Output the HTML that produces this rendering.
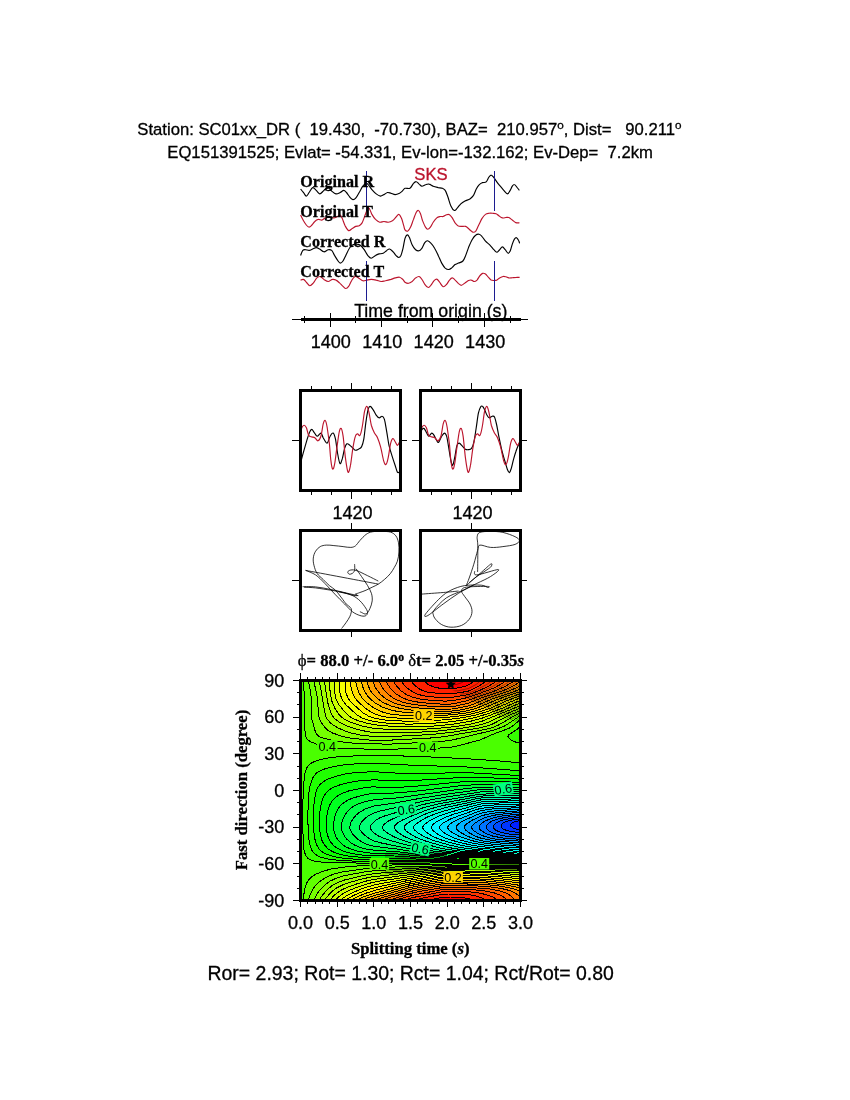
<!DOCTYPE html>
<html><head><meta charset="utf-8"><title>SKS splitting SC01xx_DR</title>
<style>html,body{margin:0;padding:0;background:#fff}svg{display:block}</style></head>
<body>
<svg width="850" height="1100" viewBox="0 0 850 1100" font-family="'Liberation Sans', Arial, Helvetica, sans-serif" fill="#000">
<style>text{stroke:#000;stroke-width:.3px;paint-order:stroke}.nr{stroke:none}.rt{stroke:#bb142c}</style>
<rect width="850" height="1100" fill="#fff"/>
<text x="137.3" y="134.8" font-size="16.67" xml:space="preserve">Station: SC01xx_DR (  19.430,  -70.730), BAZ=  210.957<tspan font-size="11.7" dy="-5.5">o</tspan><tspan dy="5.5">, Dist=   90.211</tspan><tspan font-size="11.7" dy="-5.5">o</tspan></text>
<text x="167.3" y="157.8" font-size="16.67" xml:space="preserve">EQ151391525; Evlat= -54.331, Ev-lon=-132.162; Ev-Dep=  7.2km</text>
<g fill="none" stroke-width="1.15" stroke-linejoin="round">
<path d="M300.6 189C301.1 189.6 302.5 191.4 303.5 192.5C304.4 193.7 305.4 196.1 306.3 196.1C307.2 196.1 308.1 193.9 309.1 192.5C310.2 191.1 311.5 187.9 312.6 187.6C313.8 187.2 315 189.4 316.2 190.4C317.4 191.5 318.5 193.8 319.7 193.9C320.9 194.1 322.3 191.9 323.2 191.1C324.2 190.3 324.4 189.5 325.4 189C326.3 188.5 327.8 187.9 328.9 188.3C329.9 188.6 330.5 190.2 331.7 191.1C332.9 192.1 334.5 193.7 335.9 193.9C337.4 194.2 338.9 193.1 340.2 192.5C341.5 191.9 342.6 190.4 343.7 190.4C344.8 190.4 345.5 191.4 346.5 192.5C347.6 193.7 349 196.3 350.1 197.5C351.1 198.6 351.9 199.5 352.9 199.6C353.8 199.7 354.6 199.4 355.7 198.2C356.8 197 358.1 194.5 359.2 192.5C360.4 190.5 361.8 187.6 362.8 186.2C363.7 184.8 364.3 184.5 364.9 184.1C365.5 183.6 365.7 183.2 366.3 183.4C366.9 183.5 367.5 183.7 368.4 184.8C369.4 185.8 370.6 188.2 371.9 189.7C373.2 191.2 374.8 192.9 376.2 193.9C377.6 195 379.1 195.9 380.4 196.1C381.7 196.2 382.8 195.2 383.9 194.6C385.1 194.1 386.3 192.8 387.5 192.5C388.6 192.3 389.7 192.9 391 193.2C392.3 193.6 393.8 194.6 395.2 194.6C396.6 194.6 398.3 193.8 399.5 193.2C400.6 192.6 401.4 191.9 402.3 191.1C403.2 190.3 403.7 188.8 405 188.3C406.3 187.8 408.5 189.1 409.9 188.3C411.4 187.5 412.4 184.5 413.5 183.4C414.5 182.2 415.4 181.5 416.3 181.7C417.2 181.8 418.2 183.3 419.1 184.1C420.1 184.8 420.9 186.1 421.9 186.2C423 186.3 424.3 185.1 425.5 184.8C426.6 184.4 427.7 183.8 429 184.1C430.3 184.3 431.7 185.6 433.2 186.2C434.8 186.8 436.6 187.2 438.2 187.6C439.7 187.9 441.2 187.8 442.4 188.3C443.6 188.8 444.3 188.9 445.2 190.4C446.2 191.9 447.1 194.9 448.1 197.5C449 200.1 449.8 203.8 450.9 205.9C451.9 208.1 453.4 210.1 454.4 210.5C455.5 210.8 456.2 209.2 457.2 208.1C458.3 207 459.5 205 460.8 203.8C462.1 202.6 463.5 201.8 465 201C466.5 200.2 468.5 199.8 469.9 198.9C471.4 197.9 472.4 197 473.5 195.4C474.5 193.7 475.4 190.8 476.3 189C477.2 187.2 478.1 185.8 479.1 184.8C480.2 183.7 481.5 183.1 482.6 182.6C483.8 182.2 485.1 182.9 486.2 181.9C487.2 181 488.1 178.1 489 177C489.9 175.9 490.6 175 491.4 175.2C492.2 175.3 493 176.6 493.9 177.7C494.8 178.8 495.7 180.5 496.8 181.9C497.8 183.4 499.1 184.8 500.3 186.2C501.5 187.6 502.6 189.1 503.8 190.4C505 191.7 506.3 193.9 507.4 193.9C508.4 193.9 509.4 191.7 510.2 190.4C511 189.1 511.6 187.2 512.3 186.2C513 185.2 513.6 184.2 514.4 184.5C515.2 184.7 516.4 186.6 517.2 187.6C518.1 188.6 519 189.9 519.4 190.4" stroke="#000"/>
<path d="M300.6 215.1C301.1 216.1 302.5 219.1 303.5 220.8C304.4 222.4 305.4 223.9 306.3 225C307.2 226.1 308.2 227.1 309.1 227.1C310.1 227.1 311 225.9 311.9 225C312.9 224.1 313.7 222.4 314.8 221.5C315.8 220.5 317.1 219.6 318.3 219.4C319.5 219.1 320.6 220.3 321.8 220.1C323 219.8 324.1 218.4 325.4 217.9C326.6 217.5 328.2 217.2 329.6 217.2C331 217.2 332.5 218.1 333.8 217.9C335.1 217.8 336.3 217 337.4 216.5C338.4 216.1 339.4 214.8 340.2 215.1C341 215.5 341.5 216.9 342.3 218.6C343.1 220.4 344.1 223.7 345.1 225.7C346.2 227.7 347.5 230.2 348.6 230.6C349.8 231.1 351 229.2 352.2 228.5C353.4 227.8 354.5 226.9 355.7 226.4C356.9 225.9 358.2 226.3 359.2 225.7C360.3 225.1 361.1 224.5 362.1 222.9C363 221.2 364.1 217.9 364.9 215.8C365.7 213.7 366.3 211.5 367 210.2C367.7 208.9 368.3 207.4 369.1 208.1C369.9 208.8 370.9 212.5 371.9 214.4C373 216.3 374.2 218.1 375.5 219.4C376.8 220.6 378.3 221.8 379.7 222.2C381.1 222.5 382.5 221.5 383.9 221.5C385.4 221.5 386.8 222.3 388.2 222.2C389.6 222.1 391.1 221.6 392.4 220.8C393.7 219.9 394.9 218.3 395.9 217.2C397 216.2 397.8 214.2 398.8 214.4C399.7 214.6 400.8 216.8 401.6 218.6C402.4 220.5 403.1 223.8 403.7 225.7C404.3 227.6 404.3 229 405 229.9C405.7 230.8 406.9 231.5 407.8 231.1C408.8 230.6 409.7 229.1 410.6 227.1C411.6 225.2 412.5 221.8 413.5 219.4C414.4 216.9 415.5 213.8 416.3 212.3C417.1 210.8 417.7 210.2 418.4 210.5C419.1 210.7 419.8 212 420.5 213.7C421.2 215.4 421.8 218.5 422.6 220.8C423.5 223 424.6 225.7 425.5 227.1C426.3 228.5 426.8 229.2 427.6 229.2C428.4 229.2 429.5 228.3 430.4 227.1C431.4 225.9 432.2 223.7 433.2 222.2C434.3 220.6 435.6 218.9 436.8 217.9C437.9 217 439.2 216.8 440.3 216.5C441.4 216.3 442.1 216.8 443.1 216.5C444.2 216.2 445.6 215 446.6 214.7C447.7 214.4 448.5 214.2 449.5 214.7C450.4 215.2 451.4 216.6 452.3 217.9C453.2 219.3 454.2 221.6 455.1 222.9C456.1 224.2 456.9 225.1 457.9 225.7C459 226.3 460.2 226.3 461.5 226.4C462.8 226.5 464.4 225.9 465.7 226.4C467 226.9 468.1 228.3 469.2 229.2C470.4 230.2 471.7 231.7 472.8 232.1C473.8 232.4 474.6 232.4 475.6 231.4C476.5 230.3 477.4 227.8 478.4 225.7C479.5 223.6 480.8 220.5 481.9 218.6C483.1 216.8 484.3 215.3 485.5 214.4C486.6 213.5 487.8 213.5 489 213.3C490.2 213.1 491.4 213.2 492.5 213.3C493.7 213.4 495 213.3 496.1 213.7C497.1 214.1 497.8 215.1 498.9 215.8C499.9 216.5 501.2 217.7 502.4 217.9C503.6 218.2 504.9 217.6 505.9 217.5C507 217.4 507.7 217.1 508.8 217.5C509.8 217.9 511.1 219.2 512.3 220.1C513.5 220.9 514.6 222.1 515.8 222.6C517 223.1 518.8 222.8 519.4 222.9" stroke="#bb142c"/>
<path d="M300.6 255.4C301 254.5 301.9 251.4 302.8 250.4C303.6 249.5 304.5 249.7 305.6 249.7C306.6 249.7 307.9 250.5 309.1 250.4C310.3 250.3 311.5 249.5 312.6 249C313.8 248.5 315 247.6 316.2 247.6C317.4 247.6 318.4 248.3 319.7 249C321 249.7 322.5 251.7 323.9 251.8C325.4 251.9 326.9 249.9 328.2 249.7C329.5 249.5 330.6 249.5 331.7 250.4C332.8 251.4 333.5 253.6 334.5 255.4C335.6 257.1 337.1 259.7 338.1 261C339 262.3 339.4 263.1 340.2 263.1C341 263.1 342.1 262.3 343 261C343.9 259.7 344.8 257.5 345.8 255.4C346.9 253.2 348.2 250.1 349.4 248.3C350.5 246.5 351.6 245.5 352.9 244.8C354.2 244.1 355.8 243.9 357.1 244.1C358.4 244.2 359.5 244.5 360.6 245.5C361.8 246.4 363 248.1 364.2 249.7C365.4 251.4 366.5 253.9 367.7 255.4C368.9 256.8 369.9 258.2 371.2 258.2C372.5 258.2 374.2 256.1 375.5 255.4C376.8 254.6 377.7 254.3 379 253.9C380.3 253.6 381.9 253.8 383.2 253.2C384.5 252.6 385.7 251.1 386.8 250.4C387.8 249.7 388.5 248.8 389.6 249C390.6 249.2 392.1 250.8 393.1 251.8C394.2 252.9 395 254.4 395.9 255.4C396.9 256.3 397.9 257.5 398.8 257.5C399.6 257.5 400.2 256.9 400.9 255.4C401.6 253.8 402.3 251.1 403 248.3C403.7 245.5 404.3 240.6 405 238.4C405.7 236.2 406.4 235.1 407.1 234.9C407.8 234.6 408.4 235.4 409.2 237C410.1 238.6 411 242.6 412.1 244.8C413.1 246.9 414.4 248.7 415.6 249.7C416.8 250.7 418.1 251.1 419.1 250.8C420.2 250.6 421 249.7 421.9 248.3C422.9 246.9 423.8 243.9 424.8 242.6C425.7 241.4 426.5 240.7 427.6 240.8C428.6 240.9 429.9 242.1 431.1 243.4C432.3 244.6 433.5 246.3 434.6 248.3C435.8 250.3 437 252.9 438.2 255.4C439.4 257.8 440.5 261 441.7 263.1C442.9 265.2 444.1 267 445.2 268.1C446.4 269.1 447.6 269.6 448.8 269.5C449.9 269.4 451.2 268.2 452.3 267.4C453.4 266.5 454.1 265.2 455.1 264.5C456.2 263.8 457.4 263.7 458.6 263.1C459.9 262.5 461.7 262.3 462.9 261C464.1 259.7 464.8 257.6 465.7 255.4C466.6 253.1 467.5 250.2 468.5 247.6C469.6 245 470.9 241.9 472.1 239.8C473.2 237.8 474.4 236.1 475.6 235.2C476.8 234.2 478.1 234 479.1 234.2C480.2 234.4 480.9 235.1 481.9 236.3C483 237.5 484.2 239.8 485.5 241.2C486.8 242.6 488.3 243.4 489.7 244.8C491.1 246.2 492.8 248.5 493.9 249.7C495.1 251 495.8 252.2 496.8 252.2C497.7 252.2 498.6 250.6 499.6 249.7C500.5 248.8 501.5 246.9 502.4 246.9C503.4 246.9 504.3 248.6 505.2 249.7C506.2 250.8 507.2 253 508.1 253.2C508.9 253.5 509.5 252.6 510.2 251.1C510.9 249.6 511.6 246.1 512.3 244.1C513 242.1 513.7 240.2 514.4 239.1C515.1 238.1 515.8 237.5 516.5 237.7C517.2 237.9 518.1 239.6 518.6 240.5C519.2 241.5 519.5 242.9 519.6 243.4" stroke="#000"/>
<path d="M300.6 280.1C301.1 279.9 302.5 279 303.5 279.4C304.4 279.7 305.2 281.1 306.3 282.2C307.4 283.2 308.6 285.6 309.8 285.7C311 285.8 312.2 284.2 313.4 282.9C314.5 281.6 315.7 279 316.9 277.9C318.1 276.9 319.2 276.3 320.4 276.5C321.6 276.8 322.6 278.5 323.9 279.4C325.2 280.2 326.8 281.5 328.2 281.5C329.6 281.5 331.1 279.6 332.4 279.4C333.7 279.1 334.8 279.5 335.9 280.1C337.1 280.6 338.3 281.8 339.5 282.9C340.6 283.9 341.9 285.5 343 286.4C344.1 287.4 344.9 288.5 345.8 288.5C346.8 288.5 347.7 287.7 348.6 286.4C349.6 285.1 350.4 282.4 351.5 280.8C352.5 279.1 353.8 277 355 276.5C356.2 276.1 357.2 277.2 358.5 277.9C359.8 278.6 361.4 280.4 362.8 280.8C364.2 281.1 365.6 280.3 367 280.1C368.4 279.8 369.7 279.4 371.2 279.4C372.8 279.4 374.5 279.7 376.2 280.1C377.8 280.4 379.6 281.4 381.1 281.5C382.6 281.6 383.7 281.1 385.4 280.8C387 280.4 389.4 279.8 391 279.4C392.6 278.9 393.8 278.3 395.2 277.9C396.6 277.6 398.2 277 399.5 277.2C400.8 277.5 402.1 278.8 403 279.6C403.9 280.5 404.1 281.6 405 282.2C405.9 282.8 407.4 283.4 408.5 283.3C409.7 283.2 410.9 282.4 412.1 281.5C413.2 280.6 414.4 278.8 415.6 277.9C416.8 277.1 418.1 276.3 419.1 276.5C420.2 276.8 421 278.1 421.9 279.4C422.9 280.6 423.7 282.9 424.8 284.3C425.8 285.7 427.2 287.4 428.3 287.5C429.4 287.7 430.2 286.1 431.1 285C432.1 283.9 433 281.8 433.9 280.8C434.9 279.8 435.8 278.8 436.8 279.1C437.7 279.3 438.5 280.9 439.6 282.2C440.6 283.4 441.9 286.3 443.1 286.7C444.3 287 445.6 285.4 446.6 284.3C447.7 283.2 448.5 281.1 449.5 280.1C450.4 279 451.4 277.9 452.3 277.9C453.2 277.9 454.1 279.1 455.1 280.1C456.2 281 457.6 282.7 458.6 283.6C459.7 284.5 460.4 285.4 461.5 285.3C462.5 285.2 463.8 283.7 465 282.9C466.2 282.1 467.5 281 468.5 280.5C469.6 280 470.4 279.9 471.4 280.1C472.3 280.2 473.2 281.5 474.2 281.5C475.1 281.5 476.1 281 477 280.1C477.9 279.1 478.9 276.9 479.8 275.8C480.8 274.7 481.7 273.7 482.6 273.4C483.6 273.1 484.5 273.4 485.5 274C486.4 274.6 487.4 276.2 488.3 277.2C489.2 278.2 490.2 279.5 491.1 280.1C492.1 280.6 493 280.5 493.9 280.5C494.9 280.5 495.8 280.5 496.8 280.1C497.7 279.6 498.5 278.5 499.6 277.9C500.6 277.4 502.1 276.7 503.1 276.5C504.2 276.3 505 276.6 505.9 276.8C506.9 277 507.7 277.8 508.8 277.9C509.8 278.1 511 277.8 512.3 277.7C513.6 277.6 515.3 277.4 516.5 277.4C517.8 277.3 519.1 277.4 519.6 277.4" stroke="#bb142c"/>
</g>
<g stroke="#1c1c90" stroke-width="1" shape-rendering="crispEdges">
<line x1="366.5" y1="171" x2="366.5" y2="211"/>
<line x1="366.5" y1="261" x2="366.5" y2="301"/>
<line x1="494.5" y1="171" x2="494.5" y2="211"/>
<line x1="494.5" y1="261" x2="494.5" y2="301"/>
</g>
<g font-family="'Liberation Serif', 'Times New Roman', Times, serif" font-weight="bold" font-size="16.1">
<text x="300.3" y="187">Original R</text>
<text x="300.3" y="217.1">Original T</text>
<text x="300.3" y="247.2">Corrected R</text>
<text x="300.3" y="277.3">Corrected T</text>
</g>
<text class="rt" x="414.3" y="179.8" font-size="16.67" fill="#bb142c">SKS</text>
<text x="354.2" y="317.2" font-size="17.75">Time from origin (s)</text>
<g stroke="#000" shape-rendering="crispEdges">
<line x1="291.5" y1="319.5" x2="527.5" y2="319.5" stroke-width="1"/>
<line x1="301" y1="319.5" x2="520.5" y2="319.5" stroke-width="3.2"/>
<line x1="304.3" y1="315.5" x2="304.3" y2="323" stroke-width="1"/>
<line x1="330.0" y1="312.5" x2="330.0" y2="326.5" stroke-width="1"/>
<line x1="355.7" y1="315.5" x2="355.7" y2="323" stroke-width="1"/>
<line x1="381.5" y1="312.5" x2="381.5" y2="326.5" stroke-width="1"/>
<line x1="407.2" y1="315.5" x2="407.2" y2="323" stroke-width="1"/>
<line x1="432.9" y1="312.5" x2="432.9" y2="326.5" stroke-width="1"/>
<line x1="458.7" y1="315.5" x2="458.7" y2="323" stroke-width="1"/>
<line x1="484.4" y1="312.5" x2="484.4" y2="326.5" stroke-width="1"/>
<line x1="510.1" y1="315.5" x2="510.1" y2="323" stroke-width="1"/>
</g>
<g font-size="18.06" text-anchor="middle">
<text x="330.8" y="348">1400</text>
<text x="382.3" y="348">1410</text>
<text x="433.7" y="348">1420</text>
<text x="485.2" y="348">1430</text>
</g>
<g fill="none" stroke-width="1.15" stroke-linejoin="round">
<path d="M301.4 459.9C301.8 458.2 303.1 453.4 304.1 449.9C305.1 446.5 306.3 442.2 307.2 439.2C308.1 436.3 308.7 434 309.5 432.4C310.2 430.7 311 429.3 311.8 429.3C312.5 429.3 313.2 431.2 314.1 432.4C315 433.5 316 436 317.1 436.2C318.3 436.3 319.9 432.9 320.9 433.1C322 433.4 322.2 436 323.2 437.7C324.3 439.4 325.9 443.3 327.1 443.1C328.2 442.8 329.1 437.8 330.1 436.2C331.1 434.5 332.3 432.6 333.2 433.1C334.1 433.6 334.7 435.7 335.5 439.2C336.2 442.8 337 450.5 337.8 454.5C338.5 458.6 339.3 463.1 340.1 463.7C340.8 464.3 341.6 460.9 342.4 458.4C343.1 455.8 343.9 450.8 344.6 448.4C345.4 446 346 444.3 346.9 443.8C347.8 443.3 349 444.6 350 445.4C351 446.1 352.2 447.6 353.1 448.4C354 449.2 354.5 450.1 355.4 450.2C356.2 450.4 357.4 449.7 358.4 449.2C359.4 448.6 360.6 448.5 361.5 446.9C362.4 445.2 363 443.6 363.8 439.2C364.5 434.9 365.3 426 366.1 420.9C366.8 415.8 367.6 411.1 368.4 408.6C369.1 406.2 369.6 406.2 370.3 406.4C371.1 406.5 372 408 372.9 409.4C373.9 410.8 375 413.4 376 414.8C377 416.2 378 417.6 379.1 417.8C380.1 418.1 381.2 416 382.1 416.3C383 416.5 383.6 416.8 384.4 419.4C385.2 421.9 385.9 427.3 386.7 431.6C387.5 435.9 388.1 441.3 389 445.4C389.9 449.4 391 452.7 392.1 456.1C393.1 459.4 394.2 462.6 395.1 465.2C396 467.9 396.7 471 397.4 472.1C398.1 473.3 399.1 472.1 399.4 472.1" stroke="#000"/>
<path d="M300.3 433.9C300.5 432.9 301.2 429.2 301.8 427.8C302.5 426.3 303.4 425.2 304.1 425.2C304.9 425.2 305.6 426.1 306.4 427.8C307.2 429.5 307.8 433.9 308.7 435.4C309.6 436.9 310.7 436.6 311.8 436.9C312.8 437.3 313.8 437.1 314.8 437.7C315.8 438.3 316.9 441 317.9 440.8C318.9 440.5 320 439 320.9 436.2C321.8 433.4 322.5 426.6 323.2 423.9C323.9 421.3 324.6 419.9 325.2 420.4C325.9 420.9 326.4 423.1 327.1 427C327.7 430.9 328.7 438.2 329.4 443.8C330 449.4 330.3 456.4 330.9 460.6C331.4 464.9 332.1 468.5 332.7 469.1C333.4 469.6 334 467.4 334.7 463.7C335.4 460 336.2 452.2 337 446.9C337.8 441.5 338.6 434.6 339.3 431.6C340 428.5 340.6 427.8 341.3 428.5C341.9 429.3 342.4 431.3 343.1 436.2C343.8 441 344.6 451.6 345.4 457.6C346.2 463.6 347.2 470.8 348 472.1C348.9 473.4 349.6 469.4 350.5 465.2C351.3 461 352.2 451.7 353.1 446.9C353.9 442 354.6 438.3 355.4 436.2C356.1 434 356.9 434 357.6 433.9C358.4 433.8 359.2 436.6 359.9 435.4C360.7 434.3 361.5 431 362.2 427C363 423 363.8 415.1 364.5 411.7C365.3 408.3 366.1 406.4 366.8 406.4C367.5 406.4 368 408.5 368.8 411.7C369.6 414.9 370.5 421.9 371.4 425.5C372.4 429 373.5 431.1 374.5 433.1C375.5 435.2 376.5 435.4 377.5 437.7C378.5 440 379.6 443.1 380.6 446.9C381.6 450.7 382.8 457.7 383.6 460.6C384.5 463.6 385.2 465 385.9 464.5C386.7 464 387.5 461 388.2 457.6C389 454.1 389.8 447 390.5 443.8C391.3 440.6 392.1 438.9 392.8 438.5C393.6 438.1 394.4 440.4 395.1 441.5C395.9 442.7 396.7 445.2 397.4 445.4C398.1 445.5 399.1 442.8 399.4 442.3" stroke="#bb142c"/>
</g>
<rect x="300.5" y="390.5" width="100" height="100" fill="none" stroke="#000" stroke-width="3" shape-rendering="crispEdges"/>
<g stroke="#000" stroke-width="1" shape-rendering="crispEdges">
<line x1="311.5" y1="386.3" x2="311.5" y2="389"/>
<line x1="311.5" y1="492" x2="311.5" y2="494.7"/>
<line x1="331.4" y1="386.3" x2="331.4" y2="389"/>
<line x1="331.4" y1="492" x2="331.4" y2="494.7"/>
<line x1="351.3" y1="382.5" x2="351.3" y2="389"/>
<line x1="351.3" y1="492" x2="351.3" y2="498.5"/>
<line x1="371.2" y1="386.3" x2="371.2" y2="389"/>
<line x1="371.2" y1="492" x2="371.2" y2="494.7"/>
<line x1="391.1" y1="386.3" x2="391.1" y2="389"/>
<line x1="391.1" y1="492" x2="391.1" y2="494.7"/>
<line x1="292.0" y1="440.5" x2="299.0" y2="440.5"/>
<line x1="402.0" y1="440.5" x2="407.0" y2="440.5"/>
</g>
<text x="352.5" y="518.8" font-size="18.06" text-anchor="middle">1420</text>
<g fill="none" stroke-width="1.15" stroke-linejoin="round">
<path d="M420.3 433.9C420.6 433.1 421.5 430.2 422.1 429.3C422.8 428.4 423.4 428 424.1 428.5C424.8 429 425.6 431.1 426.4 432.4C427.2 433.6 427.8 436 428.7 436.2C429.6 436.3 430.9 433.2 431.8 433.1C432.7 433 433.3 434.3 434.1 435.4C434.8 436.6 435.6 438.9 436.4 440C437.1 441.1 437.8 442.9 438.6 442.3C439.5 441.7 440.7 437.7 441.7 436.2C442.7 434.6 443.6 433.1 444.5 433.1C445.3 433.1 445.9 433.9 446.6 436.2C447.3 438.5 447.9 442.8 448.6 446.9C449.3 451 450.2 457.6 450.9 460.6C451.6 463.7 452.1 465.7 452.7 465.2C453.4 464.7 454 460.9 454.7 457.6C455.4 454.3 456.2 447.8 457 445.4C457.8 442.9 458.4 442.9 459.3 443.1C460.2 443.2 461.3 445.1 462.4 446.1C463.4 447.1 464.4 448.6 465.4 449.2C466.4 449.8 467.5 449.8 468.5 449.6C469.5 449.5 470.6 449.6 471.5 448.4C472.4 447.2 473.1 445.6 473.8 442.3C474.6 439 475.4 433.4 476.1 428.5C476.9 423.7 477.6 416.9 478.4 413.2C479.2 409.6 480 408 480.7 406.8C481.4 405.7 482.1 405.9 482.7 406.4C483.3 406.8 483.8 408 484.5 409.4C485.2 410.8 486.1 413.4 486.8 414.8C487.6 416.2 488.2 417.6 489.1 417.8C490 418.1 491.3 416.4 492.2 416.3C493.1 416.2 493.7 415.5 494.5 417.1C495.2 418.6 496 422 496.8 425.5C497.5 428.9 498.2 433.4 499.1 437.7C500 442 501.1 447.4 502.1 451.5C503.1 455.5 504.3 459.1 505.2 462.2C506.1 465.2 506.8 468.1 507.5 469.8C508.2 471.6 508.8 472.8 509.5 472.6C510.1 472.3 510.6 470.5 511.3 468.3C512 466.1 512.8 461.9 513.6 459.1C514.4 456.3 515.1 453.8 515.9 451.5C516.6 449.2 517.6 446.8 518.2 445.4C518.8 444 519.2 443.4 519.4 443.1" stroke="#000"/>
<path d="M420.3 433.9C420.5 432.9 421.2 429.2 421.8 427.8C422.5 426.3 423.4 425.2 424.1 425.2C424.9 425.2 425.6 426.1 426.4 427.8C427.2 429.5 427.8 433.9 428.7 435.4C429.6 436.9 430.7 436.6 431.8 436.9C432.8 437.3 433.8 437.1 434.8 437.7C435.8 438.3 436.9 441 437.9 440.8C438.9 440.5 440 439 440.9 436.2C441.8 433.4 442.5 426.6 443.2 423.9C443.9 421.3 444.6 419.9 445.2 420.4C445.9 420.9 446.4 423.1 447.1 427C447.7 430.9 448.7 438.2 449.4 443.8C450 449.4 450.3 456.4 450.9 460.6C451.4 464.9 452.1 468.5 452.7 469.1C453.4 469.6 454 467.4 454.7 463.7C455.4 460 456.2 452.2 457 446.9C457.8 441.5 458.6 434.6 459.3 431.6C460 428.5 460.6 427.8 461.3 428.5C461.9 429.3 462.4 431.3 463.1 436.2C463.8 441 464.6 451.6 465.4 457.6C466.2 463.6 467.2 470.8 468 472.1C468.9 473.4 469.6 469.4 470.5 465.2C471.3 461 472.2 451.7 473.1 446.9C473.9 442 474.6 438.3 475.4 436.2C476.1 434 476.9 434 477.6 433.9C478.4 433.8 479.2 436.6 479.9 435.4C480.7 434.3 481.5 431 482.2 427C483 423 483.8 415.1 484.5 411.7C485.3 408.3 486.1 406.4 486.8 406.4C487.5 406.4 488 408.5 488.8 411.7C489.6 414.9 490.5 421.9 491.4 425.5C492.4 429 493.5 431.1 494.5 433.1C495.5 435.2 496.5 435.4 497.5 437.7C498.5 440 499.6 443.1 500.6 446.9C501.6 450.7 502.8 457.7 503.6 460.6C504.5 463.6 505.2 465 505.9 464.5C506.7 464 507.5 461 508.2 457.6C509 454.1 509.8 447 510.5 443.8C511.3 440.6 512.1 438.9 512.8 438.5C513.6 438.1 514.4 440.4 515.1 441.5C515.9 442.7 516.7 445.2 517.4 445.4C518.1 445.5 519.1 442.8 519.4 442.3" stroke="#bb142c"/>
</g>
<rect x="420.5" y="390.5" width="100" height="100" fill="none" stroke="#000" stroke-width="3" shape-rendering="crispEdges"/>
<g stroke="#000" stroke-width="1" shape-rendering="crispEdges">
<line x1="431.5" y1="386.3" x2="431.5" y2="389"/>
<line x1="431.5" y1="492" x2="431.5" y2="494.7"/>
<line x1="451.4" y1="386.3" x2="451.4" y2="389"/>
<line x1="451.4" y1="492" x2="451.4" y2="494.7"/>
<line x1="471.3" y1="382.5" x2="471.3" y2="389"/>
<line x1="471.3" y1="492" x2="471.3" y2="498.5"/>
<line x1="491.2" y1="386.3" x2="491.2" y2="389"/>
<line x1="491.2" y1="492" x2="491.2" y2="494.7"/>
<line x1="511.1" y1="386.3" x2="511.1" y2="389"/>
<line x1="511.1" y1="492" x2="511.1" y2="494.7"/>
<line x1="412.0" y1="440.5" x2="419.0" y2="440.5"/>
<line x1="522.0" y1="440.5" x2="527.0" y2="440.5"/>
</g>
<text x="472.5" y="518.8" font-size="18.06" text-anchor="middle">1420</text>
<g fill="none" stroke="#000" stroke-width="0.8" stroke-linejoin="round">
<path d="M341.6 628.5C342.4 627.5 344.8 624.4 346.2 622.4C347.6 620.3 349.1 618.3 350 616.2C350.9 614.2 351.5 611.6 351.5 610.1C351.5 608.6 350.9 608.1 350 607.1C349.1 606 347.6 605.5 346.2 604C344.8 602.5 343.4 600.2 341.6 597.9C339.8 595.6 337.5 592.3 335.5 590.2C333.4 588.2 331.4 587.4 329.4 585.6C327.3 583.9 325.3 581.6 323.2 579.5C321.2 577.5 318.6 575.7 317.1 573.4C315.6 571.1 314.7 568.3 314.1 565.8C313.4 563.2 313 560.5 313.3 558.1C313.5 555.7 314.4 553.1 315.6 551.2C316.7 549.3 318.4 547.7 320.2 546.6C322 545.6 324 545.3 326.3 545.1C328.6 544.9 331.1 545.3 333.9 545.6C336.7 545.8 340.3 546.3 343.1 546.6C345.9 547 348.7 547.5 350.8 547.4C352.8 547.3 353.8 547 355.4 545.9C356.9 544.7 358.2 542.4 359.9 540.5C361.7 538.6 364 535.9 366.1 534.4C368.1 533 369.6 532.3 372.2 531.8C374.7 531.3 378.3 531.3 381.4 531.4C384.4 531.4 388.1 531.4 390.5 532.1C393 532.9 394.6 534.2 395.9 535.9C397.2 537.7 398 540.1 398.5 542.8C399 545.5 399.1 548.9 398.9 552C398.8 555.1 398.2 558.6 397.4 561.2C396.6 563.7 395.5 565.3 394.4 567.3C393.2 569.3 392.2 571.4 390.5 573.4C388.9 575.5 386.5 577.7 384.4 579.5C382.4 581.3 380.3 582.8 378.3 584.1C376.3 585.4 374.2 586.2 372.2 587.2C370.1 588.2 368.1 589.3 366.1 590.2C364 591.1 361.7 591.9 359.9 592.5C358.2 593.2 356.1 593.8 355.4 594.1"/>
<path d="M355.4 594.1C355.7 594.3 358.2 595.4 357.6 595.6C357.1 595.8 354.7 595.6 352.3 595.1C349.9 594.6 346.7 593.3 343.1 592.5C339.5 591.7 335.5 591 330.9 590.2C326.3 589.5 320 588.5 315.6 587.9C311.1 587.4 306 587.3 304.1 587.2"/>
<path d="M302.6 586.7C304.8 586.7 310.9 586.4 315.6 586.9C320.3 587.3 325.8 588.5 330.9 589.5C336 590.5 341.6 591.9 346.2 593C350.8 594 356.4 595.3 358.4 595.7"/>
<path d="M378.3 584.1C366.2 581.8 317.8 572.6 305.6 570.4"/>
<path d="M305.6 570.4C307.3 571.1 312.4 572.8 315.6 574.9C318.8 577.1 321.5 580 324.8 583.4C328.1 586.7 332.2 591.4 335.5 594.8C338.8 598.3 341.8 601.2 344.6 604C347.5 606.8 349.7 609.7 352.3 611.6C354.8 613.6 357.8 614.8 359.9 615.5C362.1 616.2 364 616.4 365.3 615.9C366.6 615.4 367.7 614 367.6 612.4C367.5 610.8 366.1 608.5 364.5 606.3C363 604.1 360.7 601.3 358.4 599.4C356.1 597.5 354.1 596.1 350.8 594.8C347.5 593.5 340.6 592.3 338.5 591.8"/>
<path d="M354.6 564.2C354.6 565.3 355 568.8 354.6 570.4C354.2 571.9 353.2 572.8 352.3 573.4C351.4 574 350 574.4 349.2 574.2C348.5 573.9 347.5 572.6 347.7 571.9C348 571.2 349.2 570.3 350.8 570C352.3 569.8 354.1 569.7 356.9 570.7C359.7 571.6 364 574 367.6 575.7C371.2 577.4 376.5 580.2 378.3 581.1"/>
<path d="M356.1 568.8C357 570.1 359.6 573.7 361.5 576.5C363.4 579.3 365.9 582.8 367.6 585.6C369.2 588.5 370.6 590.7 371.4 593.3C372.2 595.8 372.4 598.4 372.2 600.9C371.9 603.5 370.9 606.4 369.9 608.6C368.9 610.8 367.5 613.3 366.1 613.9C364.7 614.6 362.5 612.8 361.5 612.4C360.5 612 360.2 611.8 359.9 611.6"/>
</g>
<rect x="300.5" y="530.5" width="100" height="100" fill="none" stroke="#000" stroke-width="3" shape-rendering="crispEdges"/>
<g stroke="#000" stroke-width="1" shape-rendering="crispEdges">
<line x1="351.0" y1="522.5" x2="351.0" y2="529"/>
<line x1="351.0" y1="632" x2="351.0" y2="637"/>
<line x1="292.0" y1="580.5" x2="299.0" y2="580.5"/>
<line x1="402.0" y1="580.5" x2="407.0" y2="580.5"/>
</g>
<g fill="none" stroke="#000" stroke-width="0.8" stroke-linejoin="round">
<path d="M477.6 571.9C477.7 567.5 477.9 551.7 477.8 545.9C477.7 540 476.8 538.9 477.2 536.7C477.5 534.5 477.7 533.3 479.9 532.4C482.2 531.5 486.8 531.4 490.6 531.4C494.5 531.4 498.8 531.5 502.9 532.4C507 533.3 512.4 535.4 515.1 536.7C517.9 538.1 519.4 539.3 519.4 540.5C519.4 541.8 517.9 543.3 515.1 544.4C512.4 545.4 507 546.1 502.9 546.6C498.8 547.2 494.5 547.7 490.6 547.4C486.8 547.2 482.1 544.6 479.9 545.1C477.8 545.6 478.7 547.3 477.6 550.5C476.6 553.7 475.2 559.6 473.8 564.2C472.4 568.8 470.5 574.4 469.2 578C468 581.6 466.7 584.4 466.2 585.6"/>
<path d="M466.2 585.6C468.2 583.9 474.3 578.5 478.4 574.9C482.5 571.4 488.5 565.7 490.6 564.2C492.8 562.8 491.8 565.3 491.4 566.1C491 566.8 490.8 567.1 488.4 568.8C485.9 570.6 480.1 574.2 476.9 576.5C473.7 578.8 470.5 581.6 469.2 582.6"/>
<path d="M474.6 571.1C475 571.8 472.9 575.2 476.9 574.9C480.8 574.7 496 569.3 498.3 569.6C500.6 569.8 494.2 574.2 490.6 576.5C487.1 578.8 481.5 581.1 476.9 583.4C472.3 585.6 468.2 587.8 463.1 590.2C458 592.7 451.1 594.6 446.3 597.9C441.5 601.2 436.2 607.3 434.1 610.1C431.9 612.9 433 613.2 433.3 614.7C433.5 616.2 434.2 617.6 435.6 619.3C437 621 439.2 623.3 441.7 624.6C444.3 626 447.6 627.1 450.9 627.2C454.2 627.4 458.5 626.7 461.6 625.4C464.6 624.1 467.5 621.6 469.2 619.3C471 617 471.9 614.2 472 611.6C472.1 609.1 471.2 606.5 470 604C468.8 601.5 466 598.5 464.6 596.4C463.2 594.2 461.3 592.5 461.6 591C461.8 589.5 461.8 587.9 466.2 587.2C470.5 586.4 484 586.4 487.6 586.4C491.2 586.5 488.6 587.7 487.6 587.5C486.6 587.3 485.3 585.5 481.5 585.2C477.6 584.9 469.7 584.8 464.6 585.6C459.5 586.5 455 588.2 450.9 590.2C446.8 592.3 444.4 593.9 440.2 597.9C436 601.8 427.7 611 425.6 613.9C423.6 616.9 425 617.1 427.9 615.5C430.9 613.8 438.1 607.7 443.2 604C448.3 600.3 453.4 596.5 458.5 593.3C463.6 590.1 471.3 586.3 473.8 584.9"/>
<path d="M421.8 594.1C425.4 593.8 437.1 593 443.2 592.5C449.4 592 456 591.3 458.5 591"/>
</g>
<rect x="420.5" y="530.5" width="100" height="100" fill="none" stroke="#000" stroke-width="3" shape-rendering="crispEdges"/>
<g stroke="#000" stroke-width="1" shape-rendering="crispEdges">
<line x1="471.0" y1="522.5" x2="471.0" y2="529"/>
<line x1="471.0" y1="632" x2="471.0" y2="637"/>
<line x1="412.0" y1="580.5" x2="419.0" y2="580.5"/>
<line x1="522.0" y1="580.5" x2="527.0" y2="580.5"/>
</g>
<clipPath id="cp"><rect x="300.5" y="680.5" width="220" height="220"/></clipPath>
<g clip-path="url(#cp)" stroke="#000" stroke-width="1" fill-rule="evenodd" stroke-linejoin="round" shape-rendering="crispEdges">
<rect x="300.5" y="680.5" width="220" height="220" fill="#ff0000"/>
<path d="M520.5 906.5 474.5 906.5 473 900.5 470.5 899.3 468.2 898.5 464.5 897.9 450.5 897 444.5 897.1 440.5 897.6 427.6 900.5 426.5 906.5 300.5 906.5 294.5 900.5 294.5 680.5 300.5 674.5 424.5 674.5 424.7 680.5 425.8 682.5 428.1 684.5 432.5 686.5 436.5 687.6 441 688.5 446.5 688.9 452.5 688.6 458.5 687.8 464.5 686.5 469.5 684.5 472.3 682.5 473.7 680.5 474.5 674.5 520.5 674.5 526.5 680.5 526.5 900.5 520.5 906.5Z" fill="#ff2000"/>
<path d="M520.5 906.5 486.5 906.5 486.1 900.5 483.3 898.5 478.1 896.5 472.5 895.2 467.9 894.5 460.5 894.2 448.5 894 442.5 894.3 420.5 898.5 413.1 900.5 412.5 906.5 300.5 906.5 294.5 900.5 294.5 680.5 300.5 674.5 410.5 674.5 410.9 680.5 412.1 682.5 416.1 686.5 420.5 689.6 424.5 691.3 428.5 692.4 444.5 693.8 452.5 693.6 461.1 692.5 468.5 691 472.5 689.4 481.4 684.5 484.3 682.5 486.2 680.5 486.5 674.5 520.5 674.5 526.5 680.5 526.5 900.5 520.5 906.5Z" fill="#ff3500"/>
<path d="M520.5 906.5 498.5 906.5 497 900.5 495.4 898.5 491.9 896.5 485.8 894.5 478.5 892.9 466.5 891.5 448.5 891.4 442.5 891.8 412.5 897.6 403.1 900.5 402.5 906.5 300.5 906.5 294.5 900.5 294.5 680.5 300.5 674.5 400.5 674.5 401.2 680.5 403.6 684.5 407.6 688.5 413.7 692.5 418.5 694.5 424.5 696 432.5 696.9 444.5 697.7 452.5 697.3 466.5 694.9 472.5 693.2 479.4 690.5 487.9 686.5 494.7 682.5 496.7 680.5 498.5 674.5 520.5 674.5 526.5 680.5 526.5 900.5 520.5 906.5Z" fill="#ff4a00"/>
<path d="M520.5 906.5 506.5 906.5 506.4 900.5 505.3 898.5 502.9 896.5 500.5 895.2 494.5 893 482.1 890.5 466.5 889.2 442.5 889.5 412.5 895.3 400.8 898.5 395.2 900.5 394.5 906.5 300.5 906.5 294.5 900.5 294.5 680.5 300.5 674.5 392.5 674.5 393.2 680.5 395.3 684.5 400.6 690.5 406.5 694.7 412.5 697.1 420.5 699.1 430.5 700.3 444.5 701.1 452.5 700.8 466.5 697.8 474.5 695.3 492.7 688.5 500.6 684.5 503.7 682.5 505.9 680.5 506.5 674.5 520.5 674.5 526.5 680.5 526.5 900.5 520.5 906.5Z" fill="#ff6000"/>
<path d="M520.5 906.5 516.5 906.5 513.8 898.5 510.5 895.5 504.9 892.5 498.3 890.5 488.5 888.8 468.5 887.4 448.5 887.2 442.5 887.5 424.7 890.5 412.5 893 387.7 900.5 386.5 906.5 300.5 906.5 294.5 900.5 294.5 680.5 300.5 674.5 384.5 674.5 386.6 682.5 390.4 688.5 396.5 694.2 402.5 697.9 409.7 700.5 418.5 702.2 428.5 703.3 444.5 704.3 450.5 704.1 454.5 703.6 466.5 700.8 496 690.5 504.9 686.5 511.8 682.5 514 680.5 514.5 674.5 520.5 674.5 526.5 680.5 526.5 900.5 520.5 906.5Z" fill="#ff7500"/>
<path d="M380.5 906.5 300.5 906.5 294.5 900.5 294.5 680.5 300.5 674.5 378.5 674.5 379.9 682.5 382.9 688.5 386.2 692.5 388.4 694.5 392.5 697.5 396.5 699.8 403.6 702.5 413.3 704.5 426.5 706 444.5 707 454.5 706.4 468.5 703.1 482.5 697.5 503.4 690.5 512.2 686.5 520.5 681.8 526.5 682.5 526.5 896.5 520.5 896.8 514.2 892.5 509.6 890.5 501.4 888.5 494.5 887.5 486.5 886.5 474.5 885.8 444.5 885.4 436.5 886.4 414.3 890.5 386.2 898.5 380.9 900.5 380.5 906.5Z" fill="#ff8a00"/>
<path d="M372.5 906.5 300.5 906.5 294.5 900.5 294.5 680.5 300.5 674.5 372.5 674.5 373.4 682.5 374.9 686.5 376.5 689.4 380.6 694.5 384.5 697.9 388.5 700.5 396.5 703.9 406.8 706.5 422.5 708.4 438.5 709.2 452.5 709 466.5 706.4 472.7 704.5 486.7 698.5 510.3 690.5 520.5 685.9 526.5 686.5 526.5 890.5 520.5 891.3 512.6 888.5 508.5 887.6 498.5 886 486.5 884.6 454.5 883.6 442.5 883.8 424.8 886.5 410.5 889.4 379.1 898.5 374.5 900.5 372.5 906.5Z" fill="#ff9f00"/>
<path d="M366.5 906.5 300.5 906.5 294.5 900.5 294.5 680.5 300.5 674.5 366.5 674.5 367.3 682.5 368.6 686.5 370.4 690.5 372.5 693.5 375.2 696.5 378.5 699.4 382.5 702.2 390.5 705.8 400.3 708.5 410.5 710 424.5 711.1 450.5 711.2 457.2 710.5 466.5 708.8 474.6 706.5 493.5 698.5 511.5 692.5 520.5 689.1 526.5 690.5 526.5 886.5 520.5 888 506.5 885.1 486.5 882.8 450.5 881.8 440.5 882.2 424.5 884.7 408.5 887.9 374.5 897.7 368.2 900.5 366.5 906.5Z" fill="#ffb500"/>
<path d="M360.5 906.5 300.5 906.5 294.5 900.5 294.5 680.5 300.5 674.5 360.5 674.5 361.5 682.5 362.6 686.5 364.5 691.3 368.5 697.2 374.5 702.6 382.5 707.2 392.3 710.5 402.5 712.1 416.5 713.1 430.5 713.5 448.5 713.2 456.5 712.5 466.5 710.9 476.5 708.3 500 698.5 518.5 692.2 520.5 691.6 526.5 692.5 526.5 884.5 520.5 885.5 504.5 882.9 484.5 880.9 448.5 880 438.5 880.7 422.5 883.2 408.5 886 372.5 896.1 365.9 898.5 362.3 900.5 360.5 906.5Z" fill="#ffca00"/>
<path d="M356.5 906.5 300.5 906.5 294.5 900.5 294.5 680.5 300.5 674.5 354.5 674.5 356.2 684.5 358.8 692.5 362.4 698.5 366.4 702.5 374.5 708.4 382.5 712 390.5 714.2 400.5 715.1 420.5 715.7 436.5 715.6 452.5 714.8 466.5 712.9 474.5 711.2 482.9 708.5 501.3 700.5 518.5 694.3 520.5 693.8 526.5 694.5 526.5 882.5 520.5 883.2 502.5 880.8 484.5 879.1 448.5 878.3 438.5 879 422.5 881.5 406.9 884.5 370.5 894.3 360.5 898.1 356.6 900.5 356.5 906.5Z" fill="#ffdf00"/>
<path d="M350.5 906.5 300.5 906.5 294.5 900.5 294.5 680.5 300.5 674.5 348.5 674.5 350.3 680.5 350.8 686.5 352.4 692.5 355.4 698.5 358.8 702.5 366.5 709 372.5 712.9 376.5 714.6 382.7 716.5 392.5 717.9 408.5 718.3 432.5 718.1 450.5 717 464.5 715.3 474.5 713.2 484.5 710.3 490.5 708.1 507.5 700.5 518.5 696.4 520.5 695.9 526.5 696.5 526.5 880.5 520.5 881 504.5 879.1 486.5 877.6 450.5 876.7 440.5 877.1 426.5 879.1 404.5 883.1 376.5 889.9 366.5 893 356.5 897.1 353.7 898.5 351.1 900.5 350.5 906.5Z" fill="#fff400"/>
<path d="M344.5 906.5 300.5 906.5 294.5 900.5 294.5 680.5 300.5 674.5 344.5 674.5 345.2 680.5 345.1 688.5 345.8 692.5 348.3 698.5 351.4 702.5 362.5 712.5 368.5 716.1 375.7 718.5 388.5 720.6 408.5 721.2 430.5 720.8 448.5 719.5 464.5 717.4 474.5 715.4 488.5 711.2 518.5 698.6 520.5 698 526.5 698.5 526.5 878.5 520.5 878.9 504.5 877.2 486.5 875.9 450.5 875.1 440.5 875.5 424.5 877.7 406.5 880.8 380.5 886.3 372.5 888.3 364.5 890.9 354.5 895 348 898.5 345.9 900.5 344.5 906.5Z" fill="#f4ff00"/>
<path d="M340.5 906.5 300.5 906.5 294.5 900.5 294.5 680.5 300.5 674.5 338.5 674.5 340.1 680.5 339.4 688.5 340.2 694.5 342.6 700.5 346.5 705.3 356.4 714.5 359.4 716.5 363.3 718.5 372.5 721.2 386.5 723.1 406.5 724.1 420.5 723.9 444.5 722.5 462.5 720.2 474.5 717.7 488.5 713.5 501.5 708.5 520 700.5 526.5 700.5 526.5 876.5 520.5 876.9 504.5 875.4 486.5 874.3 448.5 873.6 438.5 874.2 418.5 877 376.5 884.4 368.5 886.6 360.5 889.3 348.5 894.5 342.5 898.5 340.8 900.5 340.5 906.5Z" fill="#dfff00"/>
<path d="M334.5 906.5 300.5 906.5 294.5 900.5 294.5 680.5 300.5 674.5 334.5 674.5 334.9 680.5 334.3 686.5 334.3 690.5 335.9 698.5 338.5 704.1 344.5 711.6 349.8 716.5 353.1 718.5 357.5 720.5 368.5 723.7 380.5 725.5 400.5 726.8 414.5 726.9 436.5 725.9 454.5 724 470.5 721.3 482.5 718 500.5 711.4 520.5 702.9 526.5 704.5 526.5 874.5 520.5 874.9 504.5 873.6 484.5 872.7 444.5 872.2 424.5 874.4 378.5 881.3 370.5 883 362.5 885.4 350.5 889.8 344.5 892.7 340.5 895.3 336.9 898.5 335.5 900.5 334.5 906.5Z" fill="#caff00"/>
<path d="M328.5 906.5 300.5 906.5 294.5 900.5 294.5 680.5 300.5 674.5 328.5 674.5 329.6 680.5 330.1 692.5 331.6 700.5 334.5 707.6 338.9 714.5 343.3 718.5 351.1 722.5 362.5 726.1 374.5 728.4 390.5 729.5 414.5 729.7 436.5 728.5 455.9 726.5 472.5 723.7 482.5 721 520.5 705.6 526.5 706.5 526.5 872.5 520.5 872.9 484.5 871.1 442.5 870.9 424.5 872.7 374.5 879.3 366.5 881 356.5 884 346.5 887.6 340.5 890.5 335 894.5 331.3 898.5 330.1 900.5 328.5 906.5Z" fill="#b5ff00"/>
<path d="M324.5 906.5 300.5 906.5 294.5 900.5 294.5 680.5 300.5 674.5 322.5 674.5 324.3 680.5 327.7 702.5 330.5 711.9 332.9 716.5 334.5 718.5 338.5 721.6 346.5 725.7 356.5 729.2 368.5 731.9 374.5 732.4 388.5 732.9 416.5 732.3 436.5 731.2 458.5 728.7 472.5 726.5 482.5 724.2 488.5 722.1 505 714.5 518.5 708.8 520.5 708.2 526.5 708.5 526.5 870.5 520.5 871 486.5 869.7 442.5 869.5 424.5 871 370.5 877.1 360.5 879.4 348.5 882.8 342.5 885 336.5 888 330.8 892.5 325.7 898.5 324.6 900.5 324.5 906.5Z" fill="#9fff00"/>
<path d="M318.5 906.5 300.5 906.5 294.5 900.5 294.5 680.5 300.5 674.5 318.5 674.5 319 680.5 321.2 690.5 324.5 711.2 325.8 716.5 326.7 718.5 330.5 722.9 334.5 725.9 339.2 728.5 348.9 732.5 360.5 735.1 372.5 736.4 396.5 736.3 430.5 734.6 452.5 732.2 476.5 728.5 486.5 726.3 492.5 724 511.1 714.5 520.5 710.7 526.5 712.5 526.5 868.5 520.5 869.1 486.5 868.2 440.5 868.3 426.5 869.1 376.5 873.4 366.5 874.8 344.5 880 337.6 882.5 332.5 885.3 326.3 890.5 320.5 897.8 319.2 900.5 318.5 906.5Z" fill="#8aff00"/>
<path d="M312.5 906.5 300.5 906.5 294.5 900.5 294.5 680.5 300.5 674.5 312.5 674.5 317.1 696.5 318.6 714.5 319.2 718.5 321.2 722.5 324.5 727 328.1 730.5 332.5 733 342.5 736.4 350.5 738.1 368.5 740 392.5 740 428.5 738.2 442.5 736.9 476.5 731.1 488.5 728.7 495.2 726.5 499.5 724.5 513 716.5 518.5 713.8 520.5 713.1 526.5 714.5 526.5 866.5 520.5 867.3 466.5 866.7 432.5 867.2 374.5 870.7 364.5 872 352.5 874.1 342.5 876.2 336.5 878.1 330.5 880.9 325.3 884.5 320.5 889.3 316.5 894.7 313.8 900.5 312.5 906.5Z" fill="#75ff00"/>
<path d="M306.5 906.5 300.5 906.5 294.5 900.5 294.5 680.5 300.5 674.5 306.5 674.5 308.4 680.5 310.3 690.5 311.3 698.5 311.7 718.5 315 730.5 316.5 734.1 319.1 736.5 322.5 737.9 336.5 741.2 348.5 742.8 364.5 743.8 390.5 744.1 432.5 742 446.5 740.9 454.5 739.5 494.5 729.9 504.5 726.1 519.1 716.5 520.5 715.9 526.5 716.5 526.5 864.5 520.5 865.5 458.5 865.3 384.5 867.3 366.4 868.5 340.5 872.3 334.5 873.8 327.7 876.5 321 880.5 316.5 884.4 313.3 888.5 311.1 892.5 309.5 896.5 306.5 906.5Z" fill="#60ff00"/>
<path d="M302.5 906.5 300.5 906.5 294.5 900.5 294.5 680.5 300.5 674.5 302.5 674.5 304 690.5 304.5 700.5 304.2 718.5 305.1 732.5 305.7 736.5 306.7 738.5 308.5 740.3 310.5 741.7 316.5 744.2 326.5 747.2 336.5 748.5 374.5 749.2 394.5 749.1 440.5 748 450.5 747.4 458.5 745.7 480.5 739.8 492.3 734.5 508.6 728.5 512 726.5 518.5 721.1 520.5 719.9 526.5 720.5 526.5 862.5 520.5 863.6 482.5 863 452.5 864 368.5 865.4 348.5 866.5 332.5 868.7 324.5 870.8 316.5 873.9 312.1 876.5 308.5 880 306.5 883.5 304.9 888.5 303.5 896.5 302.5 906.5Z" fill="#4aff00"/>
<path d="M520.5 743.4 516.5 742.4 512 740.5 509.2 738.5 508 736.5 509 734.5 516.5 729.8 520.5 726.3 526.5 726.5 526.5 742.5 520.5 743.4ZM456.5 862.6 410.5 863.3 336.5 862.9 324.5 862.4 316.5 861.5 312.2 860.5 308.5 858.8 306.3 856.5 305.3 854.5 304.1 850.5 303.3 842.5 302.9 830.5 302.9 802.5 303.5 784.5 305.1 772.5 306.5 768.5 307.7 766.5 310.5 763.6 314.5 761.4 318.5 760.1 326.5 758.3 334.5 757.1 342.5 756.4 364.5 755.6 412.5 756.1 468.5 758.8 498.5 760.9 520.5 762.8 526.5 764.5 526.5 860.5 520.5 861.9 482.5 860.5 468.5 862 456.5 862.6Z" fill="#35ff00"/>
<path d="M520.5 860.6 484.5 859.5 462.5 861 444.5 861.6 412.5 861.8 366.5 861.4 348.5 860.9 336.5 860.1 326.5 858.8 320.5 857.1 315.5 854.5 313.3 852.5 311.9 850.5 310.2 846.5 308.7 838.5 308.1 830.5 307.9 816.5 308.2 800.5 309.4 788.5 311.6 780.5 313.5 776.5 316.5 773 320.5 770.5 326 768.5 333.9 766.5 342.5 765.1 352.5 764.1 366.5 763.3 376.5 763.2 404.5 764.9 472.5 767.2 520.5 770.8 526.5 772.5 526.5 860.5 520.5 860.6Z" fill="#20ff00"/>
<path d="M430.5 860.5 370.5 859.8 350.5 858.9 342.5 858.1 333.3 856.5 327 854.5 323.2 852.5 320.6 850.5 318.7 848.5 316.5 844.5 314.7 838.5 313.7 830.5 313.4 814.5 314.1 802.5 315.8 792.5 316.5 790.3 318.4 786.5 320.5 784.1 324.5 781 328.5 778.9 332.5 777.4 340.5 775.1 348.5 773.3 362.5 772.1 376.5 771.8 390.5 772.9 408.5 773.3 470.5 772.8 520.5 775.6 526.5 776.5 526.5 858.5 520.5 860 482.5 858.5 460.5 859.9 430.5 860.5Z" fill="#0bff00"/>
<path d="M520.5 859.4 484.5 857.9 456.5 859.1 436.5 859.3 418.5 859.1 394.5 858 370.5 858 351 856.5 340.4 854.5 334.5 852.5 330.5 850.5 327.6 848.5 324.1 844.5 322 840.5 320.3 834.5 319.5 826.5 319.8 812.5 320.6 806.5 321.5 802.5 323.7 796.5 326.3 792.5 328.5 790.3 332.5 787.7 338.5 785.3 346.5 783.1 354.5 781.5 362.5 780.5 374.5 779.8 390.5 780.8 412.5 780.6 454.5 777.9 468.5 777.5 486.5 777.7 520.5 779.1 526.5 780.5 526.5 858.5 520.5 859.4Z" fill="#00ff0b"/>
<path d="M520.5 858.8 484.5 857.2 450.5 858.2 424.5 857.9 394.5 856 368.5 855.7 357.3 854.5 348.5 852.8 341.8 850.5 334.7 846.5 330.9 842.5 328.6 838.5 326.8 832.5 326.1 826.5 326.5 818.2 327.8 810.5 330 804.5 332.5 800.5 334.5 798.2 338.5 795.2 342.5 793.1 348.5 791 364.5 787.7 372.5 786.9 392.5 787.5 402.5 787.1 420.5 785.8 458.5 782.1 470.5 781.5 488.5 781.3 526.5 782.5 526.5 858.5 520.5 858.8Z" fill="#00ff20"/>
<path d="M520.5 858.3 484.5 856.6 450.5 857.2 428.5 856.8 396.5 853.9 370.5 853.1 358.5 851.3 352.5 849.7 346.5 847.2 342.3 844.5 338.2 840.5 335.7 836.5 333.8 830.5 333.5 824.5 334.3 818.5 336.2 812.5 338.3 808.5 340.5 805.6 344 802.5 348.5 799.9 352.5 798.1 366.5 794.3 372.5 793.5 398.5 792.9 426.5 790 458.5 786 474.5 784.7 488.5 784.4 520.5 785 526.5 786.5 526.5 856.5 520.5 858.3Z" fill="#00ff35"/>
<path d="M520.5 857.8 484.5 856 450.5 856.2 430.5 855.6 422.5 854.9 396.5 851.6 376.5 850.5 366.5 849.1 360.5 847.5 354.5 845 350.5 842.5 346.5 838.9 343.5 834.5 341.8 830.5 341.3 826.5 341.8 822.5 343.1 818.5 345.2 814.5 348.3 810.5 350.5 808.5 353.3 806.5 358.5 803.9 364.5 801.8 370.5 800.3 376.5 799.5 396.5 798 454.5 790 478.5 787.2 508.5 787.1 520.5 787.5 526.5 788.5 526.5 856.5 520.5 857.8Z" fill="#00ff4a"/>
<path d="M520.5 857.4 484.5 855.4 452.5 855.2 434 854.5 422.5 853.2 396.5 849 374.5 846.4 368.5 844.8 364.5 843.3 359.5 840.5 356.8 838.5 353.1 834.5 350.5 830.5 349.9 828.5 350.1 824.5 350.8 822.5 353.2 818.5 356.5 814.7 359.2 812.5 366.2 808.5 374.5 805.9 394.5 803.1 419.2 798.5 442.5 794.8 478.5 789.8 506.5 789.4 520.5 789.8 526.5 790.5 526.5 856.5 520.5 857.4Z" fill="#00ff60"/>
<path d="M520.5 857 486.5 854.8 446.5 853.9 432.5 852.9 424.5 851.7 380.5 842.8 374.5 841.1 369.1 838.5 363.9 834.5 360.4 830.5 359.5 828.5 359.4 826.5 361.1 822.5 364.5 818.8 368.5 815.8 374.5 812.7 380.5 810.9 396.5 807.5 424.5 800.9 446.5 797 480.5 792 506.5 791.5 520.5 791.9 526.5 792.5 526.5 856.5 520.5 857Z" fill="#00ff75"/>
<path d="M520.5 856.5 486.5 854.1 448.5 852.8 428.6 850.5 397.4 842.5 383.9 838.5 378.5 836 373.5 832.5 371.6 830.5 370.4 828.5 370.3 826.5 371.3 824.5 375.3 820.5 378.5 818.5 382.8 816.5 420.5 805.2 430.5 802.8 480.5 794.1 510.5 793.6 520.5 793.7 526.5 794.5 526.5 856.5 520.5 856.5Z" fill="#00ff8a"/>
<path d="M520.5 855.9 500.5 854.6 486.5 853.3 454.5 851.9 441.3 850.5 430.4 848.5 409.5 842.5 397.7 838.5 393.4 836.5 386.6 832.5 384.1 830.5 382.6 828.5 382.5 826.5 383.9 824.5 386.3 822.5 389.4 820.5 396.5 817.2 424.5 807.3 436.5 804.3 480.5 796.1 494.5 795.6 520.5 795.5 526.5 796.5 526.5 854.5 520.5 855.9Z" fill="#00ff9f"/>
<path d="M520.5 855.2 507.9 854.5 488.5 852.6 458.5 850.9 448.5 849.6 438.5 847.7 420 842.5 408.7 838.5 404.4 836.5 398.1 832.5 395.8 830.5 394.5 828.5 394.4 826.5 395.8 824.5 398.3 822.5 402.5 820 410.3 816.5 428.5 809.3 444.5 805.2 466.5 801 476.5 798.7 482.5 797.8 520.5 797.2 526.5 798.5 526.5 854.5 520.5 855.2Z" fill="#00ffb5"/>
<path d="M520.5 854.6 488.5 851.6 464.5 850 453.9 848.5 444.5 846.5 426.5 841.4 418.7 838.5 414.5 836.5 408 832.5 405.6 830.5 404.3 828.5 404.3 826.5 405.9 824.5 408.7 822.5 415.8 818.5 424.1 814.5 435.1 810.5 446.5 807.4 480.5 800 488.5 799.5 520.5 798.8 526.5 800.5 526.5 854.5 520.5 854.6Z" fill="#00ffca"/>
<path d="M520.5 853.3 466.5 848.5 456.5 846.7 447.3 844.5 433.3 840.5 423.9 836.5 417.5 832.5 415.1 830.5 413.7 828.5 413.7 826.5 415.5 824.5 418.1 822.5 424.5 818.5 428.5 816.5 439.1 812.5 453.2 808.5 476.5 802.8 482.5 801.8 520.5 800.6 526.5 802.5 526.5 852.5 520.5 853.3Z" fill="#00ffdf"/>
<path d="M520.5 851.6 476.5 847.9 464.5 846 450.5 842.7 440.5 839.7 432.9 836.5 426.7 832.5 424.3 830.5 422.9 828.5 422.9 826.5 424.5 824.5 429.8 820.5 437.9 816.5 450.5 812.1 478.5 804.5 482.5 803.8 490.5 803.3 520.5 802.3 526.5 802.5 526.5 850.5 520.5 851.6Z" fill="#00fff4"/>
<path d="M520.5 849.7 499.9 848.5 480.5 846.5 470.5 844.9 458.5 842.2 446.2 838.5 438.5 834.7 433 830.5 431.7 828.5 431.7 826.5 433.1 824.5 435.4 822.5 438.6 820.5 444.5 817.7 452.8 814.5 478.9 806.5 484.5 805.6 494.5 805 520.5 804.1 526.5 804.5 526.5 848.5 520.5 849.7Z" fill="#00f4ff"/>
<path d="M520.5 847.9 500.5 846.8 484.5 845.1 474.5 843.5 461.8 840.5 454.5 838.1 446.5 834.4 441.2 830.5 439.9 828.5 439.8 826.5 441.3 824.5 443.8 822.5 451.5 818.5 474.5 810.2 480.5 808.4 490.5 807.2 508.5 806.3 520.5 805.8 526.5 806.5 526.5 846.5 520.5 847.9Z" fill="#00dfff"/>
<path d="M520.5 846.3 504.5 845.3 490.5 844 480 842.5 471.2 840.5 459.5 836.5 452.5 832.8 449.5 830.5 448 828.5 447.9 826.5 449.5 824.5 452.1 822.5 455.7 820.5 475.3 812.5 482.5 810.3 492.5 809 514.5 807.8 520.5 807.6 526.5 808.5 526.5 844.5 520.5 846.3Z" fill="#00caff"/>
<path d="M520.5 844.6 493.2 842.5 482.5 840.9 476.5 839.5 468.2 836.5 460.6 832.5 457.9 830.5 456.3 828.5 456.2 826.5 457.7 824.5 460.4 822.5 464 820.5 477.4 814.5 483.7 812.5 496.5 810.7 516.5 809.4 520.5 809.2 526.5 810.5 526.5 844.5 520.5 844.6Z" fill="#00b5ff"/>
<path d="M520.5 842.9 496.5 841.1 481.9 838.5 476.1 836.5 468.7 832.5 466 830.5 464.4 828.5 464.3 826.5 465.7 824.5 471.6 820.5 479.8 816.5 486.5 814.4 498.5 812.5 518.5 810.9 520.5 810.9 526.5 812.5 526.5 842.5 520.5 842.9Z" fill="#009fff"/>
<path d="M520.5 841.2 498.5 839.5 492.2 838.5 484.7 836.5 478.5 833.8 473.5 830.5 471.9 828.5 471.8 826.5 473.2 824.5 478.8 820.5 482.8 818.5 488.5 816.5 496.5 814.8 506.5 813.5 518.5 812.5 526.5 812.5 526.5 840.5 520.5 841.2Z" fill="#008aff"/>
<path d="M520.5 839.3 502.5 838 492.5 836 486.5 833.7 480.9 830.5 479.2 828.5 479.1 826.5 480.4 824.5 482.8 822.5 486.1 820.5 494.5 817.5 502.5 815.9 514 814.5 520.5 814 526.5 814.5 526.5 838.5 520.5 839.3Z" fill="#0075ff"/>
<path d="M520.5 837.3 508.5 836.5 500.5 835.2 496.5 834.2 491.9 832.5 488.5 830.5 486.6 828.5 486.3 826.5 487.5 824.5 489.7 822.5 493.2 820.5 499.8 818.5 508.5 816.9 518.5 815.7 520.5 815.6 526.5 816.5 526.5 836.5 520.5 837.3Z" fill="#0060ff"/>
<path d="M520.5 835.1 510.5 834.3 500.5 832.3 496.2 830.5 493.9 828.5 493.5 826.5 494.4 824.5 496.4 822.5 502.5 820.1 510.5 818.4 520.5 817.2 526.5 818.5 526.5 834.5 520.5 835.1Z" fill="#004aff"/>
<path d="M520.5 832.8 510.5 831.4 506.6 830.5 504.5 829.6 502.4 828.5 501.3 826.5 501.8 824.5 503.8 822.5 509.7 820.5 514.5 819.6 520.5 818.8 526.5 820.5 526.5 832.5 520.5 832.8Z" fill="#0035ff"/>
<path d="M520.5 829.9 513.9 828.5 511 826.5 510.4 824.5 512.4 822.5 516.5 821.3 520.5 820.5 526.5 820.5 526.5 828.5 520.5 829.9Z" fill="#0020ff"/>
</g>
<clipPath id="cpa"><path d="M452 680H521V724L500 716L476 703L452 690Z"/></clipPath>
<clipPath id="cpb"><path d="M385 853L447 851V874H385Z"/></clipPath>
<path clip-path="url(#cpa)" d="M446.5 685.4 450.5 685.3 456.5 684.4 462.3 682.5 464.8 680.5M446.5 691.6 458.5 690.7 468.5 688.5 476 684.5 478.6 682.5 480.2 680.5M456.5 695 466.5 693.3 470.5 692.3 475.1 690.5 486.7 684.5 489.8 682.5 491.7 680.5M456.5 698.4 466.5 696.4 473 694.5 483.7 690.5 492.5 686.5 499.3 682.5 501.4 680.5M456.5 701.7 470.5 698.1 492.1 690.5 496.8 688.5 504.7 684.5 507.9 682.5 510.1 680.5M465.7 702.5 470.5 701 481.7 696.5 494.2 692.5 504.5 688.5 512.3 684.5 515.6 682.5 517.9 680.5M468.5 704.6 483.2 698.5 506.9 690.5 520.5 684.1M472.5 705.9 490.1 698.5 508.2 692.5 520.5 687.6M476.5 707.1 496.8 698.5 520.5 690.4M479.5 708.5 503.2 698.5 520.5 692.8M474.5 712.2 484.5 709.1 504.5 700.5 520.5 694.8M476.5 713.8 487.3 710.5 510.6 700.5 520.5 696.9M488.5 712.4 520.5 699.1M486.5 715.4 499.6 710.5 520.5 701.6M482.5 719.4 498.5 713.4 520.5 704.2M484.5 721.9 520.5 706.9M488.5 723.9 508.1 714.5 520.5 709.4M496.5 724 514 714.5 520.5 711.9M502.5 725 516 716.5 520.5 714.4M508.5 726.2 518.5 718.8 520.5 717.7M512.5 729 520.5 722.5" fill="none" stroke="#000" stroke-width="1" stroke-opacity="0.4"/>
<path clip-path="url(#cpb)" d="M484.5 875 448.5 874.3 438.5 874.9 408.5 879.5M452.5 872.9 442.5 873 426.5 874.9 379.3 882.5M488.5 872 444.5 871.5 424.5 873.5 378.5 880M486.5 870.4 442.5 870.2 426.5 871.6 374.5 877.9M486.5 869 442.5 868.9 424.5 870.1 370.5 875.6M470.5 867.4 440.5 867.6 426.5 868.3 378.5 871.8M466.5 866 432.1 866.5 376.5 869.1M466.5 861.5 448.5 862.1 412.5 862.5 370.5 862.3M464.5 860.3 442.5 861 414.5 861.1 370.5 860.7M452.5 859.7 418.5 859.8 394.5 859 366.5 858.8M450.5 858.7 424.5 858.6 394.5 857 368.5 856.8M450.5 857.7 428.5 857.4 394.5 854.9 370.5 854.5M450.5 856.7 430.5 856.3 396.5 852.8 374.5 851.9M450.5 855.7 432.5 855 424.5 854.4 394.5 850.2M450.5 854.7 434.5 853.8 423.2 852.5 396.5 847.5M484.5 854.4 446.5 853.3 436.4 852.5 424.5 850.7 384.5 841.3M453.4 852.5 440.5 851.2 430.5 849.7M458.5 851.5 448.1 850.5 436.2 848.5" fill="none" stroke="#000" stroke-width="1" stroke-opacity="0.4"/>
<path d="M447 860.6L469 858.8L490 858L521 854.8V862.9L490 862.9L469 863.1L447 862.6Z" fill="#000"/>
<path d="M447 866L469 864.7L521 864.5V869.4L469 869.6L447 868.6Z" fill="#000"/>
<g>
<rect x="413.5" y="709.3" width="20.5" height="12.2" fill="#ffd400"/>
<text x="423.8" y="720.0" font-size="12.6" text-anchor="middle" class="nr">0.2</text>
</g>
<g>
<rect x="417.5" y="741.5" width="20.5" height="12.0" fill="#4aff00"/>
<text x="427.8" y="752.1" font-size="12.6" text-anchor="middle" class="nr">0.4</text>
</g>
<g>
<rect x="317.0" y="740.0" width="20.5" height="12.0" fill="#4aff00"/>
<text x="327.2" y="750.6" font-size="12.6" text-anchor="middle" class="nr">0.4</text>
</g>
<g transform="rotate(-10 503.2 789.0)">
<rect x="493.5" y="783.0" width="19.5" height="12.0" fill="#00ff80"/>
<text x="503.2" y="793.6" font-size="12.6" text-anchor="middle" class="nr">0.6</text>
</g>
<g transform="rotate(-8 406.2 809.5)">
<rect x="396.5" y="803.5" width="19.5" height="12.0" fill="#00ff80"/>
<text x="406.2" y="814.1" font-size="12.6" text-anchor="middle" class="nr">0.6</text>
</g>
<g transform="rotate(12 420.2 848.5)">
<rect x="410.5" y="842.5" width="19.5" height="12.0" fill="#00ff80"/>
<text x="420.2" y="853.1" font-size="12.6" text-anchor="middle" class="nr">0.6</text>
</g>
<g>
<rect x="369.6" y="858.0" width="19.5" height="11.8" fill="#55ff00"/>
<text x="379.4" y="868.5" font-size="12.6" text-anchor="middle" class="nr">0.4</text>
</g>
<g>
<rect x="469.2" y="858.0" width="20.0" height="11.5" fill="#55ff00"/>
<text x="479.2" y="868.4" font-size="12.6" text-anchor="middle" class="nr">0.4</text>
</g>
<g>
<rect x="443.4" y="871.5" width="19.5" height="11.3" fill="#ffd400"/>
<text x="453.1" y="881.8" font-size="12.6" text-anchor="middle" class="nr">0.2</text>
</g>
<polygon points="450.8,679.0 452.3,682.5 456.0,682.8 453.2,685.3 454.0,688.9 450.8,687.0 447.6,688.9 448.4,685.3 445.6,682.8 449.3,682.5" fill="#000"/>
<rect x="300.5" y="680.5" width="220" height="220" fill="none" stroke="#000" stroke-width="3" shape-rendering="crispEdges"/>
<g stroke="#000" stroke-width="1" shape-rendering="crispEdges">
<line x1="300.5" y1="673.0" x2="300.5" y2="679.5"/>
<line x1="300.5" y1="901.5" x2="300.5" y2="907.2"/>
<line x1="307.8" y1="676.8" x2="307.8" y2="679.5"/>
<line x1="307.8" y1="901.5" x2="307.8" y2="903.5"/>
<line x1="315.2" y1="676.8" x2="315.2" y2="679.5"/>
<line x1="315.2" y1="901.5" x2="315.2" y2="903.5"/>
<line x1="322.5" y1="676.8" x2="322.5" y2="679.5"/>
<line x1="322.5" y1="901.5" x2="322.5" y2="903.5"/>
<line x1="329.8" y1="676.8" x2="329.8" y2="679.5"/>
<line x1="329.8" y1="901.5" x2="329.8" y2="903.5"/>
<line x1="337.2" y1="673.0" x2="337.2" y2="679.5"/>
<line x1="337.2" y1="901.5" x2="337.2" y2="907.2"/>
<line x1="344.5" y1="676.8" x2="344.5" y2="679.5"/>
<line x1="344.5" y1="901.5" x2="344.5" y2="903.5"/>
<line x1="351.8" y1="676.8" x2="351.8" y2="679.5"/>
<line x1="351.8" y1="901.5" x2="351.8" y2="903.5"/>
<line x1="359.2" y1="676.8" x2="359.2" y2="679.5"/>
<line x1="359.2" y1="901.5" x2="359.2" y2="903.5"/>
<line x1="366.5" y1="676.8" x2="366.5" y2="679.5"/>
<line x1="366.5" y1="901.5" x2="366.5" y2="903.5"/>
<line x1="373.8" y1="673.0" x2="373.8" y2="679.5"/>
<line x1="373.8" y1="901.5" x2="373.8" y2="907.2"/>
<line x1="381.2" y1="676.8" x2="381.2" y2="679.5"/>
<line x1="381.2" y1="901.5" x2="381.2" y2="903.5"/>
<line x1="388.5" y1="676.8" x2="388.5" y2="679.5"/>
<line x1="388.5" y1="901.5" x2="388.5" y2="903.5"/>
<line x1="395.8" y1="676.8" x2="395.8" y2="679.5"/>
<line x1="395.8" y1="901.5" x2="395.8" y2="903.5"/>
<line x1="403.2" y1="676.8" x2="403.2" y2="679.5"/>
<line x1="403.2" y1="901.5" x2="403.2" y2="903.5"/>
<line x1="410.5" y1="673.0" x2="410.5" y2="679.5"/>
<line x1="410.5" y1="901.5" x2="410.5" y2="907.2"/>
<line x1="417.8" y1="676.8" x2="417.8" y2="679.5"/>
<line x1="417.8" y1="901.5" x2="417.8" y2="903.5"/>
<line x1="425.2" y1="676.8" x2="425.2" y2="679.5"/>
<line x1="425.2" y1="901.5" x2="425.2" y2="903.5"/>
<line x1="432.5" y1="676.8" x2="432.5" y2="679.5"/>
<line x1="432.5" y1="901.5" x2="432.5" y2="903.5"/>
<line x1="439.8" y1="676.8" x2="439.8" y2="679.5"/>
<line x1="439.8" y1="901.5" x2="439.8" y2="903.5"/>
<line x1="447.2" y1="673.0" x2="447.2" y2="679.5"/>
<line x1="447.2" y1="901.5" x2="447.2" y2="907.2"/>
<line x1="454.5" y1="676.8" x2="454.5" y2="679.5"/>
<line x1="454.5" y1="901.5" x2="454.5" y2="903.5"/>
<line x1="461.8" y1="676.8" x2="461.8" y2="679.5"/>
<line x1="461.8" y1="901.5" x2="461.8" y2="903.5"/>
<line x1="469.2" y1="676.8" x2="469.2" y2="679.5"/>
<line x1="469.2" y1="901.5" x2="469.2" y2="903.5"/>
<line x1="476.5" y1="676.8" x2="476.5" y2="679.5"/>
<line x1="476.5" y1="901.5" x2="476.5" y2="903.5"/>
<line x1="483.8" y1="673.0" x2="483.8" y2="679.5"/>
<line x1="483.8" y1="901.5" x2="483.8" y2="907.2"/>
<line x1="491.2" y1="676.8" x2="491.2" y2="679.5"/>
<line x1="491.2" y1="901.5" x2="491.2" y2="903.5"/>
<line x1="498.5" y1="676.8" x2="498.5" y2="679.5"/>
<line x1="498.5" y1="901.5" x2="498.5" y2="903.5"/>
<line x1="505.8" y1="676.8" x2="505.8" y2="679.5"/>
<line x1="505.8" y1="901.5" x2="505.8" y2="903.5"/>
<line x1="513.2" y1="676.8" x2="513.2" y2="679.5"/>
<line x1="513.2" y1="901.5" x2="513.2" y2="903.5"/>
<line x1="520.5" y1="673.0" x2="520.5" y2="679.5"/>
<line x1="520.5" y1="901.5" x2="520.5" y2="907.2"/>
<line x1="293.0" y1="680.5" x2="299.5" y2="680.5"/>
<line x1="521.5" y1="680.5" x2="527.2" y2="680.5"/>
<line x1="296.8" y1="692.7" x2="299.5" y2="692.7"/>
<line x1="521.5" y1="692.7" x2="523.5" y2="692.7"/>
<line x1="296.8" y1="704.9" x2="299.5" y2="704.9"/>
<line x1="521.5" y1="704.9" x2="523.5" y2="704.9"/>
<line x1="293.0" y1="717.2" x2="299.5" y2="717.2"/>
<line x1="521.5" y1="717.2" x2="527.2" y2="717.2"/>
<line x1="296.8" y1="729.4" x2="299.5" y2="729.4"/>
<line x1="521.5" y1="729.4" x2="523.5" y2="729.4"/>
<line x1="296.8" y1="741.6" x2="299.5" y2="741.6"/>
<line x1="521.5" y1="741.6" x2="523.5" y2="741.6"/>
<line x1="293.0" y1="753.8" x2="299.5" y2="753.8"/>
<line x1="521.5" y1="753.8" x2="527.2" y2="753.8"/>
<line x1="296.8" y1="766.1" x2="299.5" y2="766.1"/>
<line x1="521.5" y1="766.1" x2="523.5" y2="766.1"/>
<line x1="296.8" y1="778.3" x2="299.5" y2="778.3"/>
<line x1="521.5" y1="778.3" x2="523.5" y2="778.3"/>
<line x1="293.0" y1="790.5" x2="299.5" y2="790.5"/>
<line x1="521.5" y1="790.5" x2="527.2" y2="790.5"/>
<line x1="296.8" y1="802.7" x2="299.5" y2="802.7"/>
<line x1="521.5" y1="802.7" x2="523.5" y2="802.7"/>
<line x1="296.8" y1="814.9" x2="299.5" y2="814.9"/>
<line x1="521.5" y1="814.9" x2="523.5" y2="814.9"/>
<line x1="293.0" y1="827.2" x2="299.5" y2="827.2"/>
<line x1="521.5" y1="827.2" x2="527.2" y2="827.2"/>
<line x1="296.8" y1="839.4" x2="299.5" y2="839.4"/>
<line x1="521.5" y1="839.4" x2="523.5" y2="839.4"/>
<line x1="296.8" y1="851.6" x2="299.5" y2="851.6"/>
<line x1="521.5" y1="851.6" x2="523.5" y2="851.6"/>
<line x1="293.0" y1="863.8" x2="299.5" y2="863.8"/>
<line x1="521.5" y1="863.8" x2="527.2" y2="863.8"/>
<line x1="296.8" y1="876.1" x2="299.5" y2="876.1"/>
<line x1="521.5" y1="876.1" x2="523.5" y2="876.1"/>
<line x1="296.8" y1="888.3" x2="299.5" y2="888.3"/>
<line x1="521.5" y1="888.3" x2="523.5" y2="888.3"/>
<line x1="293.0" y1="900.5" x2="299.5" y2="900.5"/>
<line x1="521.5" y1="900.5" x2="527.2" y2="900.5"/>
</g>
<g font-size="18.06" text-anchor="middle">
<text x="300.5" y="928.7">0.0</text>
<text x="337.2" y="928.7">0.5</text>
<text x="373.8" y="928.7">1.0</text>
<text x="410.5" y="928.7">1.5</text>
<text x="447.2" y="928.7">2.0</text>
<text x="483.8" y="928.7">2.5</text>
<text x="520.5" y="928.7">3.0</text>
</g>
<g font-size="18.06" text-anchor="end">
<text x="284.3" y="686.5">90</text>
<text x="284.3" y="723.2">60</text>
<text x="284.3" y="759.8">30</text>
<text x="284.3" y="796.5">0</text>
<text x="284.3" y="833.2">-30</text>
<text x="284.3" y="869.8">-60</text>
<text x="284.3" y="906.5">-90</text>
</g>
<g font-family="'Liberation Serif', 'Times New Roman', Times, serif" font-weight="bold">
<text x="297.8" y="666" font-size="16.67" xml:space="preserve"><tspan font-weight="normal">ϕ</tspan>= 88.0 +/- 6.0<tspan font-size="11.7" dy="-5.5">o</tspan><tspan dy="5.5"> </tspan><tspan font-weight="normal">δ</tspan>t= 2.05 +/-0.35<tspan font-style="italic">s</tspan></text>
<text x="410.2" y="954" font-size="16.67" text-anchor="middle">Splitting time (<tspan font-style="italic">s</tspan>)</text>
<text transform="translate(246.5 790) rotate(-90)" font-size="16.67" text-anchor="middle">Fast direction (degree)</text>
</g>
<text x="207.5" y="979.5" font-size="19.44">Ror= 2.93; Rot= 1.30; Rct= 1.04; Rct/Rot= 0.80</text>
</svg>
</body></html>
